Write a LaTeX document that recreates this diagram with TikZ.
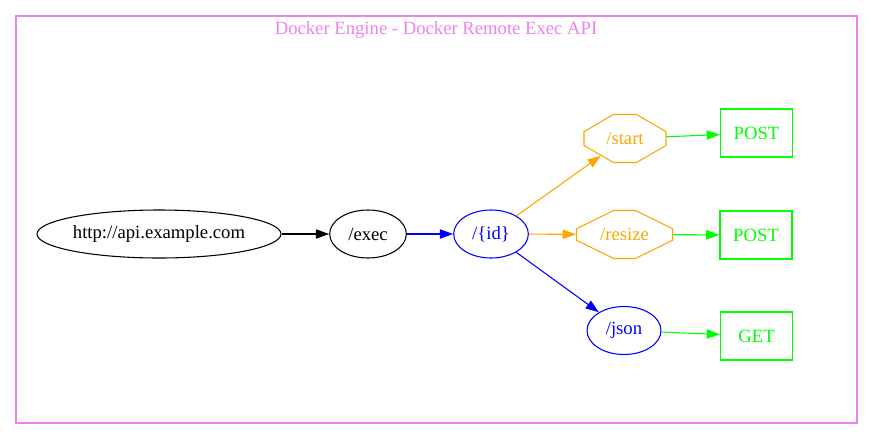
\documentclass[tikz,border=0pt]{standalone}
\usepackage{fontspec}
\setmainfont{Liberation Serif}
\usetikzlibrary{arrows.meta,shapes.geometric,shapes.misc}
\definecolor{gvviolet}{HTML}{EE82EE}
\definecolor{gvorange}{HTML}{FFA500}
\definecolor{gvgreen}{HTML}{00FF00}
\definecolor{gvblue}{HTML}{0000FF}
\begin{document}
\begin{tikzpicture}[
  x=0.75pt, y=-0.75pt,
  every node/.style={font=\fontsize{14pt}{16pt}\selectfont, inner sep=0pt},
  oval/.style={draw, ellipse, line width=0.8pt, minimum height=36pt},
  octa/.style={draw=gvorange, text=gvorange, chamfered rectangle, line width=0.8pt, minimum height=36pt},
  verb/.style={draw=gvgreen, text=gvgreen, rectangle, line width=0.8pt, minimum width=54pt, minimum height=36pt},
  arrow/.style={-{Triangle[length=10pt,width=7pt]}, line width=0.8pt}
]
\useasboundingbox (0,0) rectangle (873,440);
% Cluster
\draw[gvviolet, line width=0.8pt] (16,16) rectangle (857,423);
\node[text=gvviolet] (title) at (436,30) {Docker Engine - Docker Remote Exec API};
% Path nodes
\node[oval, minimum width=183pt] (api) at (159,234) {http://api.example.com};
\node[oval, minimum width=57.5pt] (exec) at (368,234) {/exec};
\node[oval, draw=gvblue, text=gvblue, minimum width=56pt] (id) at (491,234) {/\{id\}};
\node[octa, minimum width=61.5pt, chamfered rectangle angle=59.74, chamfered rectangle sep=18pt] (start) at (625,138.5) {/start};
\node[octa, minimum width=72pt, chamfered rectangle angle=63.85, chamfered rectangle sep=20.6pt] (resize) at (624.5,234.5) {/resize};
\node[oval, draw=gvblue, text=gvblue, minimum width=55.5pt] (json) at (624,330.5) {/json};
% Methods
\node[verb] (post1) at (756.5,133) {POST};
\node[verb] (post2) at (756,235) {POST};
\node[verb] (get) at (756.5,336) {GET};
% Edges
\draw[arrow] (api) -- (exec);
\draw[arrow, gvblue] (exec) -- (id);
\draw[arrow, gvorange] (id) -- (start);
\draw[arrow, gvorange] (id) -- (resize);
\draw[arrow, gvblue] (id) -- (json);
\draw[arrow, gvgreen] (start) -- (post1);
\draw[arrow, gvgreen] (resize) -- (post2);
\draw[arrow, gvgreen] (json) -- (get);
\end{tikzpicture}
\end{document}
